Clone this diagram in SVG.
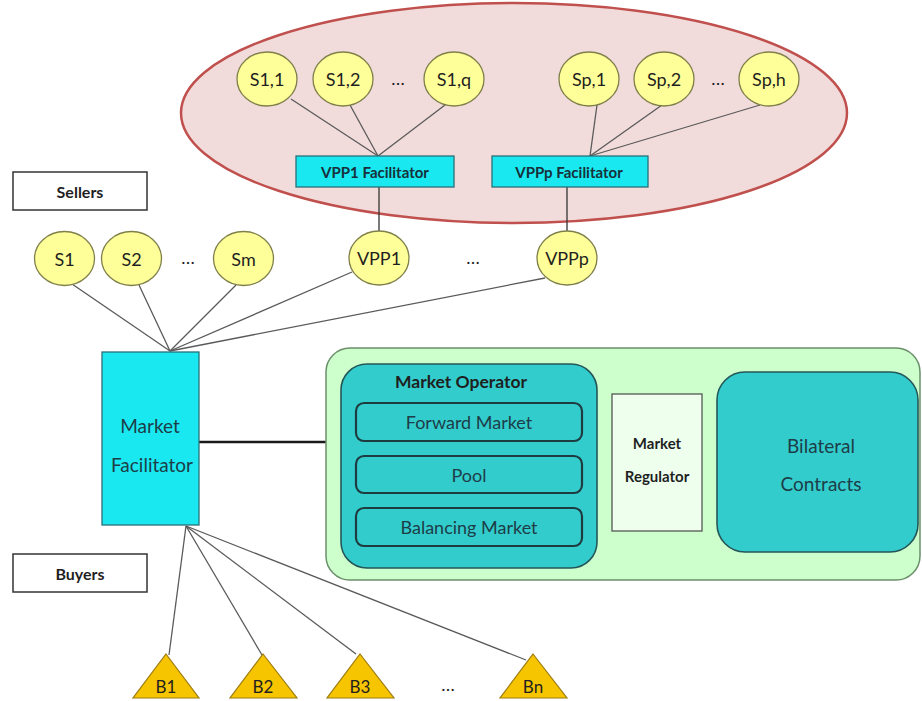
<svg xmlns="http://www.w3.org/2000/svg" width="922" height="701" viewBox="0 0 922 701">
<style>
text{font-family:Lato,"Open Sans","Liberation Sans",sans-serif;fill:#1f1f1f;text-anchor:middle;dominant-baseline:central}
.c{fill:#ffff99;stroke:#7f7f4a;stroke-width:1.3}
.ct{font-size:18px}
.cy{fill:#19e8f0;stroke:#2a6f77;stroke-width:1.3}
.bt{font-size:15px;font-weight:bold;fill:#17303a}
.ln{stroke:#5a5a5a;stroke-width:1.3;fill:none}
.vl{stroke:#333;stroke-width:1.3;fill:none}
.lbl{fill:#fff;stroke:#333;stroke-width:1.5}
.tri{fill:#f7c400;stroke:#9c7c10;stroke-width:1.2}
.teal{fill:#33cccc;stroke:#24575a;stroke-width:1.6}
.inner{fill:#33cccc;stroke:#1e3c40;stroke-width:2.2}
.tt{fill:#1d3d48}
.dots{font-size:18px}
</style>
<g id="vpp-cluster">
<ellipse cx="514" cy="113" rx="333" ry="110" fill="#f2dcdb" stroke="#c0504d" stroke-width="2.5"/>
</g>
<g id="connectors">
<line class="ln" x1="291" y1="99" x2="378" y2="156"/>
<line class="ln" x1="350" y1="105" x2="378" y2="156"/>
<line class="ln" x1="445" y1="105" x2="378" y2="156"/>
<line class="ln" x1="597" y1="105" x2="590" y2="156"/>
<line class="ln" x1="662" y1="105" x2="590" y2="156"/>
<line class="ln" x1="760" y1="105" x2="590" y2="156"/>
<line class="vl" x1="379" y1="187" x2="379" y2="231"/>
<line class="vl" x1="567" y1="187" x2="567" y2="231"/>
<line class="ln" x1="72" y1="284" x2="170" y2="351"/>
<line class="ln" x1="139" y1="285" x2="170" y2="351"/>
<line class="ln" x1="236" y1="285" x2="170" y2="351"/>
<line class="ln" x1="352" y1="272" x2="170" y2="351"/>
<line class="ln" x1="545" y1="278" x2="170" y2="351"/>
<line x1="199" y1="442" x2="326" y2="442" stroke="#1a1a1a" stroke-width="2.6"/>
<line class="ln" x1="186" y1="526" x2="169" y2="655"/>
<line class="ln" x1="186" y1="526" x2="262" y2="655"/>
<line class="ln" x1="186" y1="526" x2="356" y2="654"/>
<line class="ln" x1="186" y1="526" x2="526" y2="660"/>
</g>
<g id="s11"><ellipse class="c" cx="267" cy="79" rx="30" ry="27"/><text class="ct" x="267" y="79">S1,1</text></g>
<g id="s12"><ellipse class="c" cx="343" cy="79" rx="30" ry="27"/><text class="ct" x="343" y="79">S1,2</text></g>
<text class="dots" x="398" y="78">…</text>
<g id="s1q"><ellipse class="c" cx="454" cy="79" rx="30" ry="27"/><text class="ct" x="454" y="79">S1,q</text></g>
<g id="sp1"><ellipse class="c" cx="589" cy="79" rx="30" ry="27"/><text class="ct" x="589" y="79">Sp,1</text></g>
<g id="sp2"><ellipse class="c" cx="664" cy="79" rx="30" ry="27"/><text class="ct" x="664" y="79">Sp,2</text></g>
<text class="dots" x="718" y="78">…</text>
<g id="sph"><ellipse class="c" cx="769" cy="79" rx="30" ry="27"/><text class="ct" x="769" y="79">Sp,h</text></g>
<g id="vpp1-facilitator"><rect class="cy" x="296" y="156" width="158" height="31"/><text class="bt" x="375" y="171.5">VPP1 Facilitator</text></g>
<g id="vppp-facilitator"><rect class="cy" x="492" y="156" width="156" height="31"/><text class="bt" x="569" y="171.5">VPPp Facilitator</text></g>
<g id="sellers"><rect class="lbl" x="13" y="172" width="134" height="38"/><text x="80" y="191" font-size="16" font-weight="bold">Sellers</text></g>
<g id="s1"><ellipse class="c" cx="64.5" cy="258.5" rx="30" ry="27"/><text class="ct" x="64.5" y="258.5">S1</text></g>
<g id="s2"><ellipse class="c" cx="131.5" cy="258.5" rx="30" ry="27"/><text class="ct" x="131.5" y="258.5">S2</text></g>
<text class="dots" x="188" y="257">…</text>
<g id="sm"><ellipse class="c" cx="243.5" cy="258.5" rx="30" ry="27"/><text class="ct" x="243.5" y="258.5">Sm</text></g>
<g id="vpp1"><ellipse class="c" cx="379" cy="258" rx="30" ry="27"/><text class="ct" x="379" y="258">VPP1</text></g>
<text class="dots" x="473" y="257">…</text>
<g id="vppp"><ellipse class="c" cx="567" cy="258" rx="30" ry="27"/><text class="ct" x="567" y="258">VPPp</text></g>
<g id="market-facilitator"><rect class="cy" x="102" y="352" width="97" height="173"/><text class="tt" x="150" y="425" font-size="19">Market</text><text class="tt" x="152" y="464" font-size="19">Facilitator</text></g>
<g id="market-area"><rect x="326" y="348" width="594" height="232" rx="24" fill="#ccffcc" stroke="#6b8f6b" stroke-width="1.5"/></g>
<g id="market-operator"><rect class="teal" x="341" y="364" width="256" height="204" rx="26"/><text x="461" y="381" font-size="17.5" font-weight="bold" fill="#17262b">Market Operator</text></g>
<g id="forward-market"><rect class="inner" x="356" y="403" width="226" height="38" rx="8"/><text class="tt" x="469" y="422" font-size="18">Forward Market</text></g>
<g id="pool"><rect class="inner" x="356" y="456" width="226" height="37" rx="8"/><text class="tt" x="469" y="474.5" font-size="18">Pool</text></g>
<g id="balancing-market"><rect class="inner" x="356" y="508" width="226" height="38" rx="8"/><text class="tt" x="469" y="527" font-size="18">Balancing Market</text></g>
<g id="market-regulator"><rect x="612" y="394" width="90" height="137" fill="#eeffee" stroke="#555" stroke-width="1.3"/><text x="657" y="443" font-size="15" font-weight="bold" fill="#2a2a2a">Market</text><text x="657" y="476" font-size="15" font-weight="bold" fill="#2a2a2a">Regulator</text></g>
<g id="bilateral-contracts"><rect class="teal" x="717" y="372" width="201" height="180" rx="28"/><text class="tt" x="821" y="445" font-size="19">Bilateral</text><text class="tt" x="821" y="483" font-size="19">Contracts</text></g>
<g id="buyers"><rect class="lbl" x="13" y="554" width="134" height="38"/><text x="80" y="573" font-size="16" font-weight="bold">Buyers</text></g>
<g id="b1"><polygon class="tri" points="166,654 199,698 133,698"/><text x="166" y="686" font-size="17">B1</text></g>
<g id="b2"><polygon class="tri" points="263,654 297,698 230,698"/><text x="263" y="686" font-size="17">B2</text></g>
<g id="b3"><polygon class="tri" points="360,654 394,698 327,698"/><text x="360" y="686" font-size="17">B3</text></g>
<text class="dots" x="448" y="684">…</text>
<g id="bn"><polygon class="tri" points="533,654 567,698 500,698"/><text x="533" y="686" font-size="17">Bn</text></g>
</svg>
